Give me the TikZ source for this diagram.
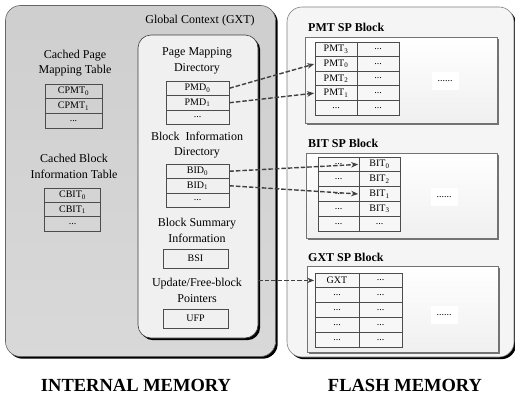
\documentclass[tikz,border=0pt]{standalone}
\usepackage{fontspec}
\setmainfont{Liberation Serif}
\usetikzlibrary{shadows,arrows.meta}
\tikzset{
  lab/.style={font=\fontsize{12}{15.5}\selectfont, align=center, inner sep=0pt},
  sptitle/.style={font=\fontsize{12}{14}\selectfont\bfseries, anchor=west, inner sep=0pt},
  bigtitle/.style={font=\fontsize{18.5}{20}\selectfont\bfseries, inner sep=0pt},
  cell/.style={draw=black!70, line width=0.7pt, inner sep=0pt, font=\fontsize{10}{12}\selectfont},
  fcell/.style={cell, fill=gray!6},
  blackshadow/.style={drop shadow={shadow xshift=2.2pt,shadow yshift=-2.2pt,fill=black,opacity=1}},
  grayshadow/.style={drop shadow={shadow xshift=2pt,shadow yshift=-2pt,fill=black!55,opacity=1}},
  ptr/.style={draw=black!75, line width=1.4pt, dash pattern=on 4.5pt off 2pt, -{Stealth[length=7pt,width=5.5pt]}, shorten >=0.5pt},
  dotsbox/.style={fill=white, inner xsep=6pt, inner ysep=8pt, font=\fontsize{10}{12}\selectfont},
}
\newcommand{\mkcell}[7][cell]{\node[#1,minimum width=#5pt,minimum height=#6pt] (#2) at (#3,#4) {#7};}
\begin{document}
\begin{tikzpicture}[x=1pt,y=-1pt]
\useasboundingbox (0,0) rectangle (515,399);
% left outer box
\node[draw=black!60, line width=0.6pt, rounded corners=15pt, top color=gray!38, bottom color=gray!30, blackshadow,
      minimum width=270pt, minimum height=351pt, inner sep=0pt] (internal) at (140.5,181) {};
% inner GXT box
\node[draw=black!75, line width=0.6pt, rounded corners=13pt, fill=gray!12, blackshadow,
      minimum width=120pt, minimum height=303pt, inner sep=0pt] (gxtbox) at (198,186.5) {};
% right outer box
\node[draw=black!50, line width=0.6pt, rounded corners=15pt, fill=gray!8, blackshadow,
      minimum width=227pt, minimum height=350pt, inner sep=0pt] (flash) at (400.5,182) {};

% titles
\node[lab] (gctitle) at (200,21) {Global Context (GXT)};
\node[lab] (cpmtlab) at (75,63) {Cached Page\\Mapping Table};
\node[lab] (cbitlab) at (74,166.5) {Cached Block\\Information Table};
\node[lab] (pmdlab) at (197,61) {Page Mapping\\Directory};
\node[lab] (bidlab) at (197,145) {Block\enspace Information\\Directory};
\node[lab] (bsilab) at (197,230.5) {Block Summary\\Information};
\node[lab] (ufplab) at (197,290.5) {Update/Free-block\\Pointers};

% CPMT table
\mkcell{cpmt0}{73.5}{91.3}{57}{14.7}{CPMT\textsubscript{0}}
\mkcell{cpmt1}{73.5}{106}{57}{14.7}{CPMT\textsubscript{1}}
\mkcell{cpmt2}{73.5}{120.7}{57}{14.7}{...}
% CBIT table
\mkcell{cbit0}{72.5}{195.2}{56}{14.33}{CBIT\textsubscript{0}}
\mkcell{cbit1}{72.5}{209.5}{56}{14.33}{CBIT\textsubscript{1}}
\mkcell{cbit2}{72.5}{223.8}{56}{14.33}{...}
% PMD table
\mkcell{pmd0}{197.5}{88.25}{63}{14.5}{PMD\textsubscript{0}}
\mkcell{pmd1}{197.5}{102.75}{63}{14.5}{PMD\textsubscript{1}}
\mkcell{pmd2}{197.5}{117.25}{63}{14.5}{...}
% BID table
\mkcell{bid0}{197.5}{171.25}{63}{14.5}{BID\textsubscript{0}}
\mkcell{bid1}{197.5}{185.75}{63}{14.5}{BID\textsubscript{1}}
\mkcell{bid2}{197.5}{200.25}{63}{14.5}{...}
% BSI and UFP
\mkcell{bsi}{195.5}{258.5}{65}{19}{BSI}
\mkcell{ufp}{195.5}{318.5}{65}{19}{UFP}

% SP block titles
\node[sptitle] (pmtt) at (308,27) {PMT SP Block};
\node[sptitle] (bitt) at (308,143) {BIT SP Block};
\node[sptitle] (gxtt) at (308,257) {GXT SP Block};

% SP block frames
\node[draw=black!55, line width=0.6pt, top color=white, bottom color=gray!12, grayshadow,
      minimum width=192pt, minimum height=86pt, inner sep=0pt] (pmtblk) at (401,80) {};
\node[draw=black!55, line width=0.6pt, top color=white, bottom color=gray!12, grayshadow,
      minimum width=191pt, minimum height=85pt, inner sep=0pt] (bitblk) at (401.5,195.5) {};
\node[draw=black!55, line width=0.6pt, top color=white, bottom color=gray!12, grayshadow,
      minimum width=191pt, minimum height=86pt, inner sep=0pt] (gxtblk) at (402.5,309) {};

% PMT table
\mkcell[fcell]{pmt3}{336}{49.3}{42}{14.6}{PMT\textsubscript{3}}
\mkcell[fcell]{pmtb0}{378}{49.3}{42}{14.6}{...}
\mkcell[fcell]{pmt0}{336}{63.9}{42}{14.6}{PMT\textsubscript{0}}
\mkcell[fcell]{pmtb1}{378}{63.9}{42}{14.6}{...}
\mkcell[fcell]{pmt2}{336}{78.5}{42}{14.6}{PMT\textsubscript{2}}
\mkcell[fcell]{pmtb2}{378}{78.5}{42}{14.6}{...}
\mkcell[fcell]{pmt1}{336}{93.1}{42}{14.6}{PMT\textsubscript{1}}
\mkcell[fcell]{pmtb3}{378}{93.1}{42}{14.6}{...}
\mkcell[fcell]{pmta4}{336}{107.7}{42}{14.6}{...}
\mkcell[fcell]{pmtb4}{378}{107.7}{42}{14.6}{...}
\node[dotsbox] (pmtdots) at (445,81) {......};

% BIT table
\mkcell[fcell]{bita0}{338.5}{164.4}{41}{14.8}{...}
\mkcell[fcell]{bit0}{379.5}{164.4}{41}{14.8}{BIT\textsubscript{0}}
\mkcell[fcell]{bita1}{338.5}{179.2}{41}{14.8}{...}
\mkcell[fcell]{bit2}{379.5}{179.2}{41}{14.8}{BIT\textsubscript{2}}
\mkcell[fcell]{bita2}{338.5}{194}{41}{14.8}{...}
\mkcell[fcell]{bit1}{379.5}{194}{41}{14.8}{BIT\textsubscript{1}}
\mkcell[fcell]{bita3}{338.5}{208.8}{41}{14.8}{...}
\mkcell[fcell]{bit3}{379.5}{208.8}{41}{14.8}{BIT\textsubscript{3}}
\mkcell[fcell]{bita4}{338.5}{223.6}{41}{14.8}{...}
\mkcell[fcell]{bitb4}{379.5}{223.6}{41}{14.8}{...}
\node[dotsbox] (bitdots) at (444,197) {......};

% GXT table
\mkcell[fcell]{gxtc}{337}{280.4}{44}{14.8}{GXT}
\mkcell[fcell]{gxtb0}{380.5}{280.4}{43}{14.8}{...}
\mkcell[fcell]{gxta1}{337}{295.2}{44}{14.8}{...}
\mkcell[fcell]{gxtb1}{380.5}{295.2}{43}{14.8}{...}
\mkcell[fcell]{gxta2}{337}{310}{44}{14.8}{...}
\mkcell[fcell]{gxtb2}{380.5}{310}{43}{14.8}{...}
\mkcell[fcell]{gxta3}{337}{324.8}{44}{14.8}{...}
\mkcell[fcell]{gxtb3}{380.5}{324.8}{43}{14.8}{...}
\mkcell[fcell]{gxta4}{337}{339.6}{44}{14.8}{...}
\mkcell[fcell]{gxtb4}{380.5}{339.6}{43}{14.8}{...}
\node[dotsbox] (gxtdots) at (444,315) {......};

% pointers
\draw[ptr] (pmd0.east) -- (pmt0.west);
\draw[ptr] (pmd1.east) -- (pmt1.west);
\draw[ptr] (bid0.east) -- (bit0.west);
\draw[ptr] (bid1.east) -- (bit1.west);
\coordinate (gxtstart) at (gxtbox.east |- gxtc.west);
\draw[ptr] (gxtstart) -- (gxtc.west);

% bottom labels
\node[bigtitle] (intlab) at (136,385) {INTERNAL MEMORY};
\node[bigtitle] (flashlab) at (405,385) {FLASH MEMORY};
\end{tikzpicture}
\end{document}
